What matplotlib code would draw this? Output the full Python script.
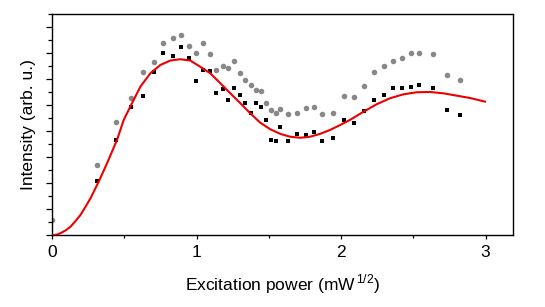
import numpy as np
import matplotlib
matplotlib.use('Agg')
import matplotlib.pyplot as plt
from matplotlib.ticker import MultipleLocator

plt.rcParams['font.family'] = ['Liberation Sans', 'DejaVu Sans']
plt.rcParams['mathtext.fontset'] = 'custom'
plt.rcParams['mathtext.rm'] = 'Liberation Sans'

# gray circles (upper data set)
x_gray = [0.0, 0.314, 0.446, 0.544, 0.631, 0.703, 0.770, 0.835, 0.890, 0.947,
          0.998, 1.046, 1.094, 1.137, 1.180, 1.221, 1.261, 1.300, 1.338, 1.376,
          1.412, 1.448, 1.480, 1.516, 1.547, 1.578, 1.635, 1.695, 1.755, 1.813,
          1.866, 1.942, 2.019, 2.091, 2.161, 2.228, 2.295, 2.360, 2.422, 2.482,
          2.542, 2.635, 2.731, 2.820]
y_gray = [0.58, 2.70, 4.36, 5.28, 6.28, 6.66, 7.41, 7.59, 7.70, 7.29,
          7.00, 7.38, 6.98, 6.34, 6.50, 6.44, 6.71, 6.23, 5.97, 5.79,
          5.58, 5.53, 5.10, 4.81, 4.69, 4.87, 4.65, 4.72, 4.90, 4.92,
          4.65, 4.72, 5.37, 5.30, 5.74, 6.26, 6.52, 6.71, 6.80, 7.01,
          7.00, 6.97, 6.15, 5.97]

# black squares (lower data set)
x_black = [0.314, 0.446, 0.544, 0.631, 0.703, 0.770, 0.835, 0.890, 0.947, 0.998,
           1.046, 1.094, 1.137, 1.180, 1.221, 1.261, 1.300, 1.338, 1.376, 1.412,
           1.448, 1.480, 1.516, 1.547, 1.578, 1.635, 1.695, 1.755, 1.813, 1.866,
           1.942, 2.019, 2.091, 2.161, 2.228, 2.295, 2.360, 2.422, 2.482, 2.542,
           2.635, 2.731, 2.820]
y_black = [2.07, 3.68, 4.94, 5.34, 6.28, 7.00, 6.89, 7.23, 6.82, 5.93,
           6.37, 6.30, 5.49, 5.61, 5.20, 5.66, 5.40, 5.08, 4.72, 5.08,
           4.94, 4.42, 3.66, 3.62, 4.17, 3.62, 3.90, 3.86, 3.97, 3.62,
           3.74, 4.44, 4.30, 4.78, 5.21, 5.38, 5.67, 5.67, 5.71, 5.76,
           5.67, 4.80, 4.62]

# red fitted curve
x_fit = [0.0, 0.03, 0.059, 0.095, 0.128, 0.16, 0.197, 0.23, 0.266, 0.323, 0.381,
         0.45, 0.496, 0.542, 0.612, 0.681, 0.75, 0.819, 0.888, 0.957, 1.026,
         1.095, 1.164, 1.234, 1.303, 1.372, 1.441, 1.51, 1.579, 1.648, 1.717,
         1.786, 1.855, 1.924, 1.994, 2.063, 2.155, 2.247, 2.339, 2.431, 2.524,
         2.616, 2.708, 2.80, 2.892, 2.996]
y_fit = [0.0, 0.02, 0.08, 0.19, 0.33, 0.53, 0.78, 1.08, 1.42, 2.06, 2.77,
         3.67, 4.43, 4.95, 5.72, 6.23, 6.55, 6.72, 6.77, 6.72, 6.48,
         6.23, 5.85, 5.46, 5.08, 4.69, 4.33, 4.08, 3.90, 3.79, 3.75,
         3.79, 3.90, 4.05, 4.24, 4.44, 4.75, 5.04, 5.27, 5.42, 5.50,
         5.51, 5.46, 5.37, 5.28, 5.14]

fig = plt.figure(figsize=(5.45, 3.07), dpi=100)
ax = fig.add_axes([0.0954, 0.2336, 0.8459, 0.72])

ax.plot(x_gray, y_gray, 'o', color='#888888', markersize=4.0, markeredgewidth=0, zorder=2)
ax.plot(x_black, y_black, 's', color='black', markersize=3.5, markeredgewidth=0, zorder=3)
ax.plot(x_fit, y_fit, '-', color='#ee0000', linewidth=1.5, zorder=4)

ax.set_xlim(0, 3.19)
ax.set_ylim(0, 8.5)
ax.xaxis.set_major_locator(MultipleLocator(1))
ax.xaxis.set_minor_locator(MultipleLocator(0.5))
ax.yaxis.set_major_locator(MultipleLocator(1))
ax.yaxis.set_minor_locator(MultipleLocator(0.5))
ax.set_yticklabels([])
ax.tick_params(axis='x', which='major', direction='out', length=3.2, width=0.9, labelsize=12.5, pad=4)
ax.tick_params(axis='x', which='minor', direction='out', length=2, width=0.9)
ax.tick_params(axis='y', which='major', direction='out', length=4.3, width=0.9)
ax.tick_params(axis='y', which='minor', direction='out', length=2.8, width=0.9)
for s in ax.spines.values():
    s.set_linewidth(1.0)

ax.set_xlabel('Excitation power (mW$^{\\,\\mathregular{1/2}}$)', fontsize=12.5)
ax.set_ylabel('Intensity (arb. u.)', fontsize=12.5)
ax.xaxis.set_label_coords(0.5, -0.22)
ax.yaxis.set_label_coords(-0.052, 0.5)
ax.xaxis.label.set_va('center')
ax.yaxis.label.set_va('center')

fig.savefig('out.png', dpi=100)
